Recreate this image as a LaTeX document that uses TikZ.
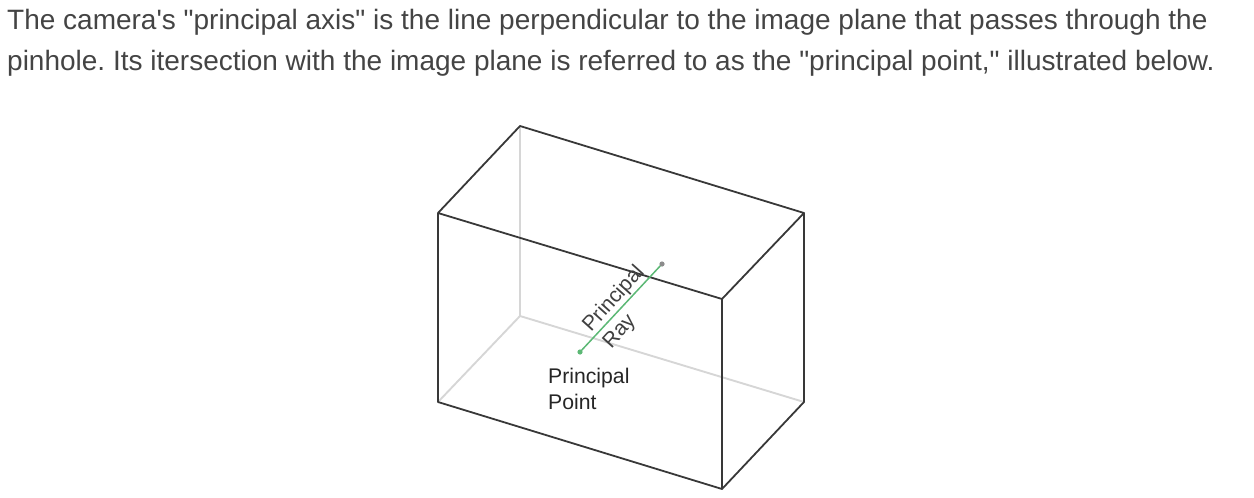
\documentclass[tikz,border=0pt]{standalone}
\usepackage{fontspec}
\setmainfont{Liberation Sans}[Ligatures=TeXOff]
\frenchspacing
\definecolor{bodytext}{HTML}{444444}
\definecolor{ray}{HTML}{5CB875}
\tikzset{x=1pt,y=-1pt,
 para/.style={anchor=base west,inner sep=0pt,text=bodytext,font=\fontsize{28}{28}\selectfont},
 edge/.style={draw=black!78,line width=1.8pt,line cap=round,line join=round},
 hidden/.style={draw=black!16,line width=1.9pt},
 raylabel/.style={inner sep=0pt,rotate=48,text=black!75,font=\fontsize{21}{21}\selectfont},
 ptlabel/.style={anchor=base west,inner sep=0pt,text=black!85,font=\fontsize{21.2}{21.2}\selectfont}}
\begin{document}
\begin{tikzpicture}
\useasboundingbox (0,0) rectangle (1254,498);
\node[para] (l1) at (7,29) {The camera's "principal axis" is the line perpendicular to the image plane that passes through the};
\node[para] (l2) at (7,70) {pinhole. Its itersection with the image plane is referred to as the "principal point," illustrated below.};
\coordinate (a) at (438,213);
\coordinate (b) at (520,126);
\coordinate (c) at (804,213);
\coordinate (d) at (722,299);
\coordinate (e) at (438,402);
\coordinate (f) at (520,316);
\coordinate (g) at (804,402);
\coordinate (h) at (722,489);
\coordinate (p) at (580,352);
\coordinate (q) at (662,264);
\draw[hidden] (b)--(f) (e)--(f) (f)--(g);
\draw[edge] (a)--(b)--(c)--(d)--cycle (a)--(e)--(h)--(d) (h)--(g)--(c);
\draw[ray,line width=1.5pt] (p)--(q);
\fill[ray] (p) circle (2.6pt);
\fill[black!45] (q) circle (2.6pt);
\node[raylabel] (pr) at (614,299) {Principal};
\node[raylabel] (ry) at (620,332) {Ray};
\node[ptlabel] (pp1) at (548,383) {Principal};
\node[ptlabel] (pp2) at (548,409) {Point};
\end{tikzpicture}
\end{document}
